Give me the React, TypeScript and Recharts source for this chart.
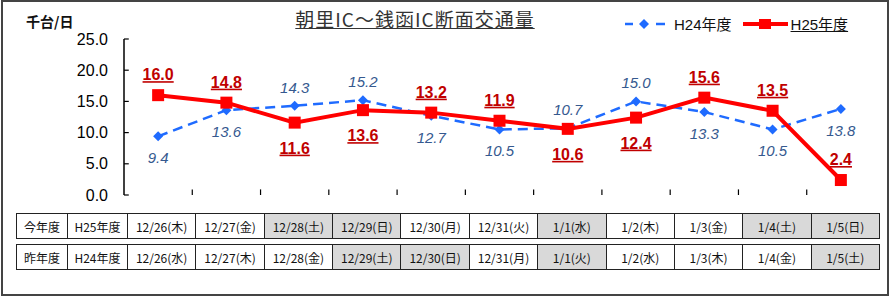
import { LineChart, Line, XAxis, YAxis, LabelList, ReferenceLine } from 'recharts';

const h24Values = [9.4, 13.6, 14.3, 15.2, 12.7, 10.5, 10.7, 15.0, 13.3, 10.5, 13.8];
const h25Values = [16.0, 14.8, 11.6, 13.6, 13.2, 11.9, 10.6, 12.4, 15.6, 13.5, 2.4];
// label placement: true = above the point
const h24LabelAbove = [false, false, true, true, false, false, true, true, false, false, false];
const h25LabelAbove = [true, true, false, false, true, true, false, false, true, true, true];
const yTicks = [0, 5, 10, 15, 20, 25];
const boundaryTicks = [1, 2, 3, 4, 5, 6, 7, 8, 9, 10];

const thisYearDays = ['12/26(木)', '12/27(金)', '12/28(土)', '12/29(日)', '12/30(月)', '12/31(火)', '1/1(水)', '1/2(木)', '1/3(金)', '1/4(土)', '1/5(日)'];
const lastYearDays = ['12/26(水)', '12/27(木)', '12/28(金)', '12/29(土)', '12/30(日)', '12/31(月)', '1/1(火)', '1/2(水)', '1/3(木)', '1/4(金)', '1/5(土)'];
const thisYearOff = [false, false, true, true, false, false, true, false, false, true, true];
const lastYearOff = [false, false, false, true, true, false, true, false, false, false, true];

const data = h24Values.map((v, i) => ({ x: i + 0.5, h24: v, h25: h25Values[i] }));

const JP = '"Noto Sans CJK JP", sans-serif';
const NUM = '"Liberation Sans", Arial, sans-serif';
const RED = '#ff0000';
const BLUE = '#1f6bff';

const Square = (p: any) => {
  if (p.cx == null) return null;
  return <rect x={p.cx - 6} y={p.cy - 6} width={12} height={12} fill={RED} />;
};

const Diamond = (p: any) => {
  if (p.cx == null) return null;
  const r = 5;
  return <path d={`M${p.cx},${p.cy - r}L${p.cx + r},${p.cy}L${p.cx},${p.cy + r}L${p.cx - r},${p.cy}Z`} fill={BLUE} />;
};

const h25Label = (p: any) => {
  const above = h25LabelAbove[p.index];
  return (
    <text x={p.x} y={above ? p.y - 15 : p.y + 31} textAnchor="middle" fill="#c00000"
      style={{ fontFamily: NUM, fontSize: 16, fontWeight: 700, textDecoration: 'underline' }}>
      {p.value.toFixed(1)}
    </text>
  );
};

const h24Label = (p: any) => {
  const above = h24LabelAbove[p.index];
  return (
    <text x={p.x} y={above ? p.y - 13 : p.y + 27} textAnchor="middle" fill="#35598f"
      style={{ fontFamily: NUM, fontSize: 15, fontStyle: 'italic' }}>
      {p.value.toFixed(1)}
    </text>
  );
};

function DayRow({ head, year, days, off, top }: { head: string; year: string; days: string[]; off: boolean[]; top: number }) {
  const cell = { border: '1.5px solid #222', padding: 0, textAlign: 'center' as const, height: 24 };
  return (
    <table style={{ position: 'absolute', left: 16, top, borderCollapse: 'collapse', tableLayout: 'fixed', width: 863, fontFamily: JP, fontSize: 12, color: '#111' }}>
      <colgroup>
        <col style={{ width: 51 }} />
        <col style={{ width: 60 }} />
        {days.map((_, i) => <col key={i} style={{ width: 68.36 }} />)}
      </colgroup>
      <tbody>
        <tr>
          <td style={cell}>{head}</td>
          <td style={cell}>{year}</td>
          {days.map((d, i) => (
            <td key={i} style={{ ...cell, background: off[i] ? '#d9d9d9' : '#fff' }}>{d}</td>
          ))}
        </tr>
      </tbody>
    </table>
  );
}

export default function App() {
  return (
    <div style={{ position: 'absolute', left: 0, top: 0, width: 890, height: 297, background: '#fff', overflow: 'hidden' }}>
      <div style={{ position: 'absolute', left: 1, top: 0, width: 888, height: 296, boxSizing: 'border-box', border: '2px solid #444' }} />
      <div style={{ position: 'absolute', left: 26, top: 11, fontFamily: JP, fontSize: 14, fontWeight: 700, color: '#111' }}>千台/日</div>
      <div style={{ position: 'absolute', left: 215, width: 400, top: 5, textAlign: 'center', fontFamily: JP, fontSize: 19, color: '#333', textDecoration: 'underline', letterSpacing: 1 }}>
        朝里IC～銭函IC断面交通量
      </div>
      <div style={{ position: 'absolute', left: 624, top: 13, display: 'flex', alignItems: 'center', fontFamily: NUM, fontSize: 15, color: '#111' }}>
        <svg width={46} height={14}>
          <line x1={1} x2={9} y1={7} y2={7} stroke={BLUE} strokeWidth={2.5} />
          <path d="M20,2L25,7L20,12L15,7Z" fill={BLUE} />
          <line x1={32} x2={41} y1={7} y2={7} stroke={BLUE} strokeWidth={2.5} />
        </svg>
        <span style={{ marginLeft: 4 }}>H24<span style={{ fontFamily: JP }}>年度</span></span>
        <svg width={48} height={14} style={{ marginLeft: 10 }}>
          <line x1={1} x2={46} y1={7} y2={7} stroke={RED} strokeWidth={4} />
          <rect x={17} y={2} width={12} height={10} fill={RED} />
        </svg>
        <span style={{ marginLeft: 1, textDecoration: 'underline' }}>H25<span style={{ fontFamily: JP }}>年度</span></span>
      </div>

      <div style={{ position: 'absolute', left: 0, top: 0 }}>
        <LineChart width={890} height={297} data={data} margin={{ top: 39, right: 15, bottom: 102, left: 0 }}>
          <XAxis xAxisId="top" orientation="top" type="number" dataKey="x" domain={[0, 11]} height={0}
            tick={false} tickLine={false} axisLine={{ stroke: '#a6a6a6', strokeWidth: 1.5 }} />
          <YAxis yAxisId="right" orientation="right" type="number" domain={[0, 25]} width={0}
            tick={false} tickLine={false} axisLine={{ stroke: '#a6a6a6', strokeWidth: 1.5 }} />
          <XAxis type="number" dataKey="x" domain={[0, 11]} ticks={boundaryTicks} height={0}
            tick={false} tickLine={false} axisLine={{ stroke: '#000', strokeWidth: 1.5 }} />
          <YAxis type="number" domain={[0, 25]} ticks={yTicks} width={124} tickSize={0} tickMargin={16}
            tickFormatter={(v: number) => v.toFixed(1)}
            tick={{ fill: '#000', fontSize: 16, fontFamily: NUM }} tickLine={false}
            axisLine={{ stroke: '#000', strokeWidth: 1.5 }} />
          {boundaryTicks.map((b) => (
            <ReferenceLine key={'xb' + b} segment={[{ x: b, y: 0 }, { x: b, y: 0.9 }]} stroke="#000" strokeWidth={1.2} />
          ))}
          {yTicks.map((t) => (
            <ReferenceLine key={'yt' + t} segment={[{ x: 0, y: t }, { x: 0.07, y: t }]} stroke="#000" strokeWidth={1.2} />
          ))}
          <Line dataKey="h24" stroke={BLUE} strokeWidth={2.5} strokeDasharray="10 6" dot={<Diamond />}
            activeDot={false} isAnimationActive={false}>
            <LabelList dataKey="h24" content={h24Label} />
          </Line>
          <Line dataKey="h25" stroke={RED} strokeWidth={4} dot={<Square />}
            activeDot={false} isAnimationActive={false}>
            <LabelList dataKey="h25" content={h25Label} />
          </Line>
        </LineChart>
      </div>

      <DayRow head="今年度" year="H25年度" days={thisYearDays} off={thisYearOff} top={213} />
      <DayRow head="昨年度" year="H24年度" days={lastYearDays} off={lastYearOff} top={244} />
    </div>
  );
}
